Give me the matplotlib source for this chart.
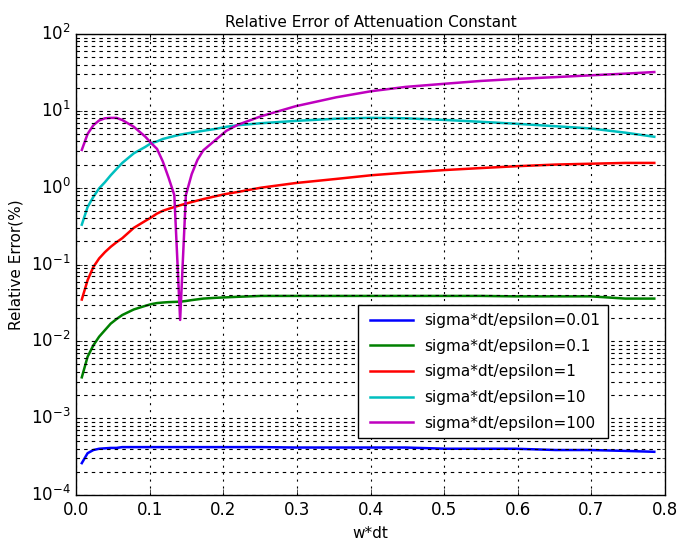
import numpy as np
import matplotlib
matplotlib.use("Agg")
import matplotlib.pyplot as plt

# w*dt sample positions
wdt = [0.00785, 0.0157, 0.0236, 0.0314, 0.0393, 0.0471, 0.0550, 0.0628, 0.0785,
       0.0942, 0.1021, 0.1100, 0.1178, 0.1257, 0.1335, 0.1414, 0.1492, 0.1571,
       0.1649, 0.1728, 0.1885, 0.2042, 0.2199, 0.2513, 0.2985, 0.3534, 0.4006,
       0.4477, 0.5027, 0.5498, 0.5969, 0.6519, 0.6990, 0.7461, 0.7854]

err_001 = [2.6e-4, 3.5e-4, 3.85e-4, 4.0e-4, 4.05e-4, 4.1e-4, 4.1e-4, 4.2e-4, 4.2e-4,
           4.2e-4, 4.2e-4, 4.2e-4, 4.2e-4, 4.2e-4, 4.2e-4, 4.2e-4, 4.2e-4, 4.2e-4,
           4.2e-4, 4.2e-4, 4.2e-4, 4.2e-4, 4.2e-4, 4.2e-4, 4.15e-4, 4.15e-4, 4.15e-4,
           4.15e-4, 4.0e-4, 4.0e-4, 4.0e-4, 3.85e-4, 3.85e-4, 3.75e-4, 3.65e-4]

err_01 = [3.4e-3, 6.3e-3, 8.9e-3, 0.0115, 0.014, 0.017, 0.0195, 0.022, 0.026,
          0.0290, 0.0305, 0.0315, 0.032, 0.0324, 0.0326, 0.0328, 0.0335, 0.0344,
          0.0352, 0.036, 0.0368, 0.0374, 0.038, 0.039, 0.039, 0.039, 0.039,
          0.039, 0.039, 0.039, 0.0385, 0.0385, 0.0385, 0.036, 0.036]

err_1 = [0.035, 0.0625, 0.093, 0.12, 0.145, 0.17, 0.195, 0.22, 0.30,
         0.37, 0.41, 0.46, 0.50, 0.53, 0.56, 0.59, 0.62, 0.65,
         0.68, 0.71, 0.77, 0.83, 0.88, 1.0, 1.15, 1.3, 1.45,
         1.57, 1.7, 1.8, 1.9, 2.0, 2.05, 2.1, 2.1]

err_10 = [0.33, 0.56, 0.76, 0.98, 1.18, 1.45, 1.75, 2.1, 2.8,
          3.4, 3.8, 4.0, 4.3, 4.5, 4.7, 4.9, 5.05, 5.2,
          5.35, 5.5, 5.8, 6.2, 6.5, 6.9, 7.4, 7.9, 8.1,
          8.0, 7.6, 7.2, 6.8, 6.3, 5.9, 5.2, 4.6]

err_100 = [3.1, 5.0, 6.5, 7.5, 8.0, 8.1, 8.1, 7.6, 6.2,
           4.6, 3.8, 3.2, 2.2, 1.35, 0.8, 0.019, 0.8, 1.5,
           2.3, 3.06, 4.1, 5.5, 6.6, 8.5, 11.5, 15.0, 18.0,
           20.5, 22.6, 24.5, 26.0, 27.5, 29.0, 30.5, 32.0]

series = [err_001, err_01, err_1, err_10, err_100]
labels = ["sigma*dt/epsilon=0.01", "sigma*dt/epsilon=0.1", "sigma*dt/epsilon=1",
          "sigma*dt/epsilon=10", "sigma*dt/epsilon=100"]
colors = ["b", "g", "r", "c", "m"]

plt.style.use("classic")
plt.rcParams["mathtext.fontset"] = "dejavusans"
plt.rcParams["font.family"] = ["DejaVu Sans"]

fig = plt.figure(figsize=(6.8, 5.46), dpi=100, facecolor="white")
ax = fig.add_axes([0.1118, 0.0934, 0.978 - 0.1118, 0.9377 - 0.0934])
ax.set_facecolor("white")

for y, lab, c in zip(series, labels, colors):
    ax.semilogy(wdt, y, color=c, lw=1.8, label=lab)

ax.set_xlim(0, 0.8)
ax.set_ylim(1e-4, 1e2)
ax.grid(True, which="major", axis="x", color="k", linestyle=(0, (1.5, 3.5)), lw=0.8)
ax.grid(True, which="both", axis="y", color="k", linestyle=(0, (2.5, 3)), lw=0.8)
ax.tick_params(labelsize=12)
ax.set_title("Relative Error of Attenuation Constant", fontsize=11)
ax.set_xlabel("w*dt", fontsize=11)
ax.set_ylabel("Relative Error(%)", fontsize=11)

leg = ax.legend(loc="lower left", bbox_to_anchor=(0.479, 0.123), fontsize=11,
                handlelength=3.4, handletextpad=0.45, labelspacing=0.7,
                borderpad=0.5, frameon=True, fancybox=False, borderaxespad=0)
leg.get_frame().set_edgecolor("k")

fig.savefig("out.png", dpi=100, facecolor="white")
